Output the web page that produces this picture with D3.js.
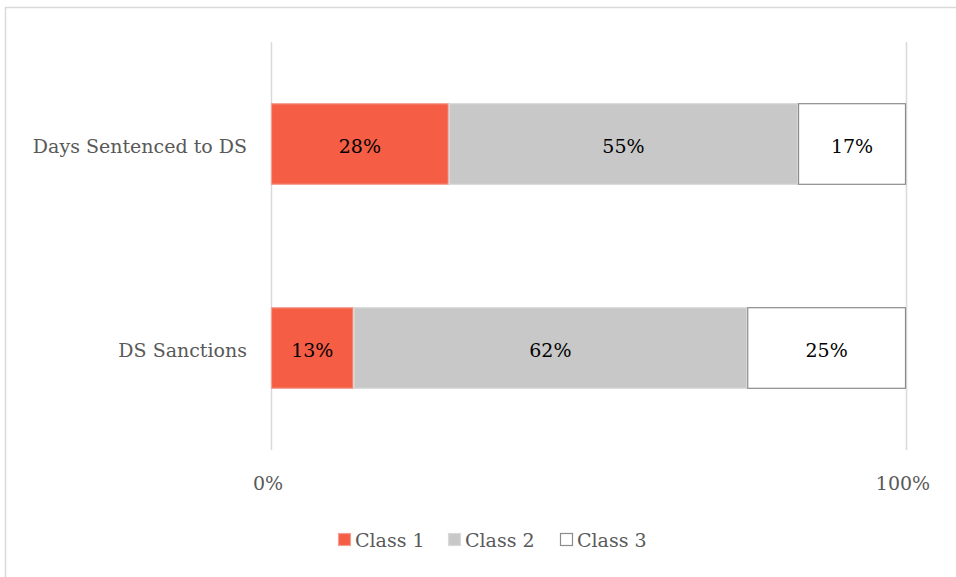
<!DOCTYPE html>
<html><head><meta charset="utf-8">
<script src="https://cdn.jsdelivr.net/npm/d3@7"></script>
<style>body{margin:0;background:#fff}svg{display:block}</style>
</head><body>
<script>
const categories = ["Days Sentenced to DS", "DS Sanctions"];
const seriesNames = ["Class 1", "Class 2", "Class 3"];
const class1 = [28, 13];
const class2 = [55, 62];
const class3 = [17, 25];
const tickLabels = ["0%", "100%"];
const tickValues = [0, 100];
const colors = ["#F55D45", "#C8C8C8", "#FFFFFF"];
const strokes = ["#F0A090", "#D9D9D9", "#8C8C8C"];

const W = 956, H = 577;
const font = "'DejaVu Serif', 'Liberation Serif', serif";
const fs = 19;
const svg = d3.select("body").append("svg").attr("width", W).attr("height", H);
svg.append("rect").attr("x", 5.5).attr("y", 7.5).attr("width", W + 10).attr("height", H + 10)
  .attr("fill", "#fff").attr("stroke", "#D9D9D9").attr("stroke-width", 1.5);

const x = d3.scaleLinear().domain([0, 100]).range([271, 906]);
const y = d3.scaleBand().domain(categories).range([42, 450]).paddingInner(0.6).paddingOuter(0.3);

svg.append("g").selectAll("line").data(tickValues).join("line")
  .attr("x1", d => x(d) + 0.5).attr("x2", d => x(d) + 0.5)
  .attr("y1", 42).attr("y2", 450).attr("stroke", "#D9D9D9").attr("stroke-width", 1.5);

const data = categories.map((c, i) => {
  const vals = [class1[i], class2[i], class3[i]];
  let acc = 0;
  return vals.map((v, k) => { const r = {cat: c, k, v, x0: acc, x1: acc + v}; acc += v; return r; });
}).flat();

svg.append("g").selectAll("rect").data(data).join("rect")
  .attr("x", d => x(d.x0) + 0.5).attr("width", d => x(d.x1) - x(d.x0) - 1)
  .attr("y", d => y(d.cat) + 0.5).attr("height", y.bandwidth() - 1)
  .attr("fill", d => colors[d.k]).attr("stroke", d => strokes[d.k]).attr("stroke-width", 1.2);

svg.append("g").selectAll("text").data(data).join("text")
  .attr("x", d => (x(d.x0) + x(d.x1)) / 2).attr("y", d => y(d.cat) + y.bandwidth() / 2 + 2)
  .attr("dy", "0.35em").attr("text-anchor", "middle")
  .attr("font-family", font).attr("font-size", fs).attr("fill", "#000")
  .text(d => d.v + "%");

svg.append("g").selectAll("text").data(categories).join("text")
  .attr("x", 247).attr("y", d => y(d) + y.bandwidth() / 2 + 2).attr("dy", "0.35em")
  .attr("text-anchor", "end").attr("font-family", font).attr("font-size", fs).attr("fill", "#595959")
  .text(d => d);

svg.append("g").selectAll("text").data(tickValues).join("text")
  .attr("x", (d, i) => x(d) - 3).attr("y", 490)
  .attr("text-anchor", "middle").attr("font-family", font).attr("font-size", fs).attr("fill", "#595959")
  .text((d, i) => tickLabels[i]);

const legX = [338, 448, 560];
const lg = svg.append("g").selectAll("g").data(seriesNames).join("g")
  .attr("transform", (d, i) => `translate(${legX[i]},540)`);
lg.append("rect").attr("x", 0.5).attr("y", -6.5).attr("width", 12).attr("height", 12)
  .attr("fill", (d, i) => colors[i]).attr("stroke", (d, i) => i === 2 ? "#8C8C8C" : strokes[i]).attr("stroke-width", 1.2);
lg.append("text").attr("x", 17).attr("y", 0).attr("dy", "0.35em")
  .attr("font-family", font).attr("font-size", fs).attr("fill", "#595959").text(d => d);
</script>
</body></html>
